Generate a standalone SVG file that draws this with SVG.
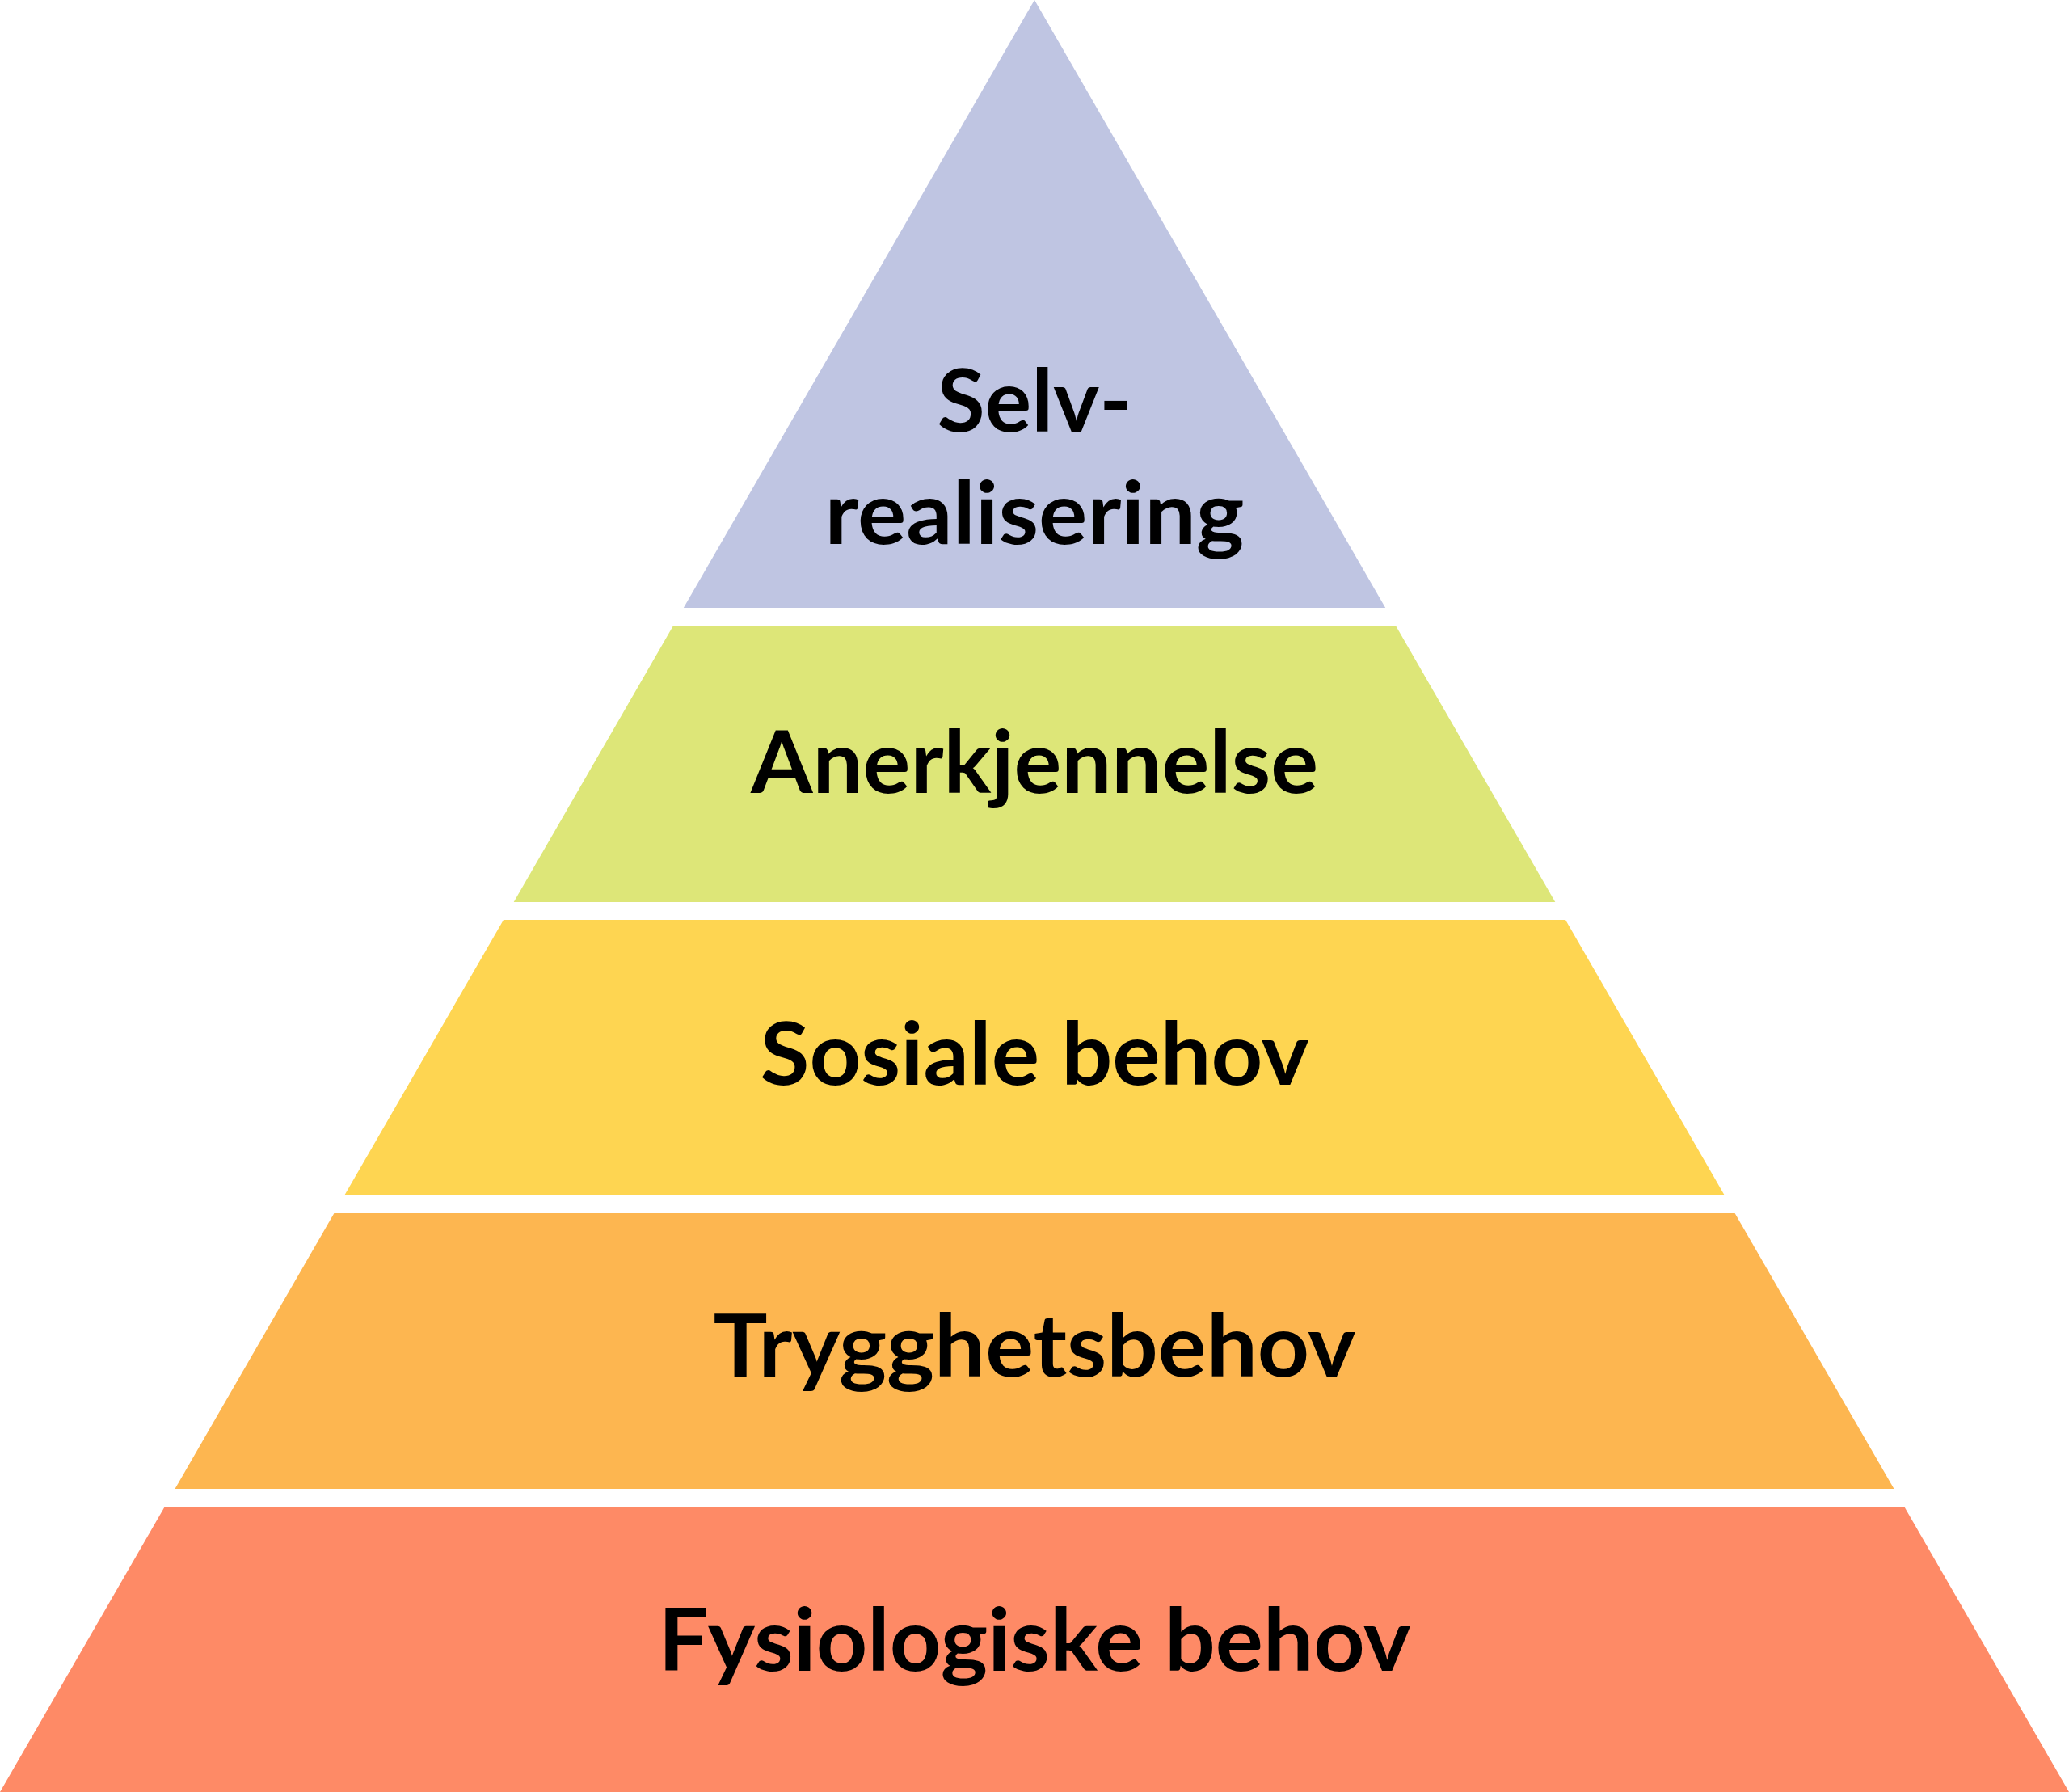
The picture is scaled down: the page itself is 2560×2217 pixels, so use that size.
<svg xmlns="http://www.w3.org/2000/svg" width="2560" height="2217" viewBox="0 0 2560 2217">
<style>
.lbl{font-family:Lato,"Open Sans","Noto Sans",sans-serif;font-weight:700;font-size:108px;fill:#000;text-anchor:middle}
</style>
<rect x="0" y="0" width="2560" height="2217" fill="#ffffff"/>
<g id="level5">
<polygon points="1280,0 1714.2,752 845.8,752" fill="#BFC5E2"/>
<text class="lbl" x="1280" y="534">Selv-</text>
<text class="lbl" x="1280" y="673" textLength="519" lengthAdjust="spacingAndGlyphs">realisering</text>
</g>
<g id="level4">
<polygon points="832.5,775 1727.5,775 1924.3,1116 635.7,1116" fill="#DDE678"/>
<text class="lbl" x="1280" y="981" textLength="702" lengthAdjust="spacingAndGlyphs">Anerkjennelse</text>
</g>
<g id="level3">
<polygon points="623.0,1138 1937.0,1138 2133.9,1479 426.1,1479" fill="#FED551"/>
<text class="lbl" x="1280" y="1342" textLength="679" lengthAdjust="spacingAndGlyphs">Sosiale behov</text>
</g>
<g id="level2">
<polygon points="413.4,1501 2146.6,1501 2343.5,1842 216.5,1842" fill="#FDB650"/>
<text class="lbl" x="1280" y="1703" textLength="795" lengthAdjust="spacingAndGlyphs">Trygghetsbehov</text>
</g>
<g id="level1">
<polygon points="203.8,1864 2356.2,1864 2560,2217 0,2217" fill="#FE8A66"/>
<text class="lbl" x="1280" y="2067" textLength="931" lengthAdjust="spacingAndGlyphs">Fysiologiske behov</text>
</g>
<g id="connectors"></g>
</svg>
